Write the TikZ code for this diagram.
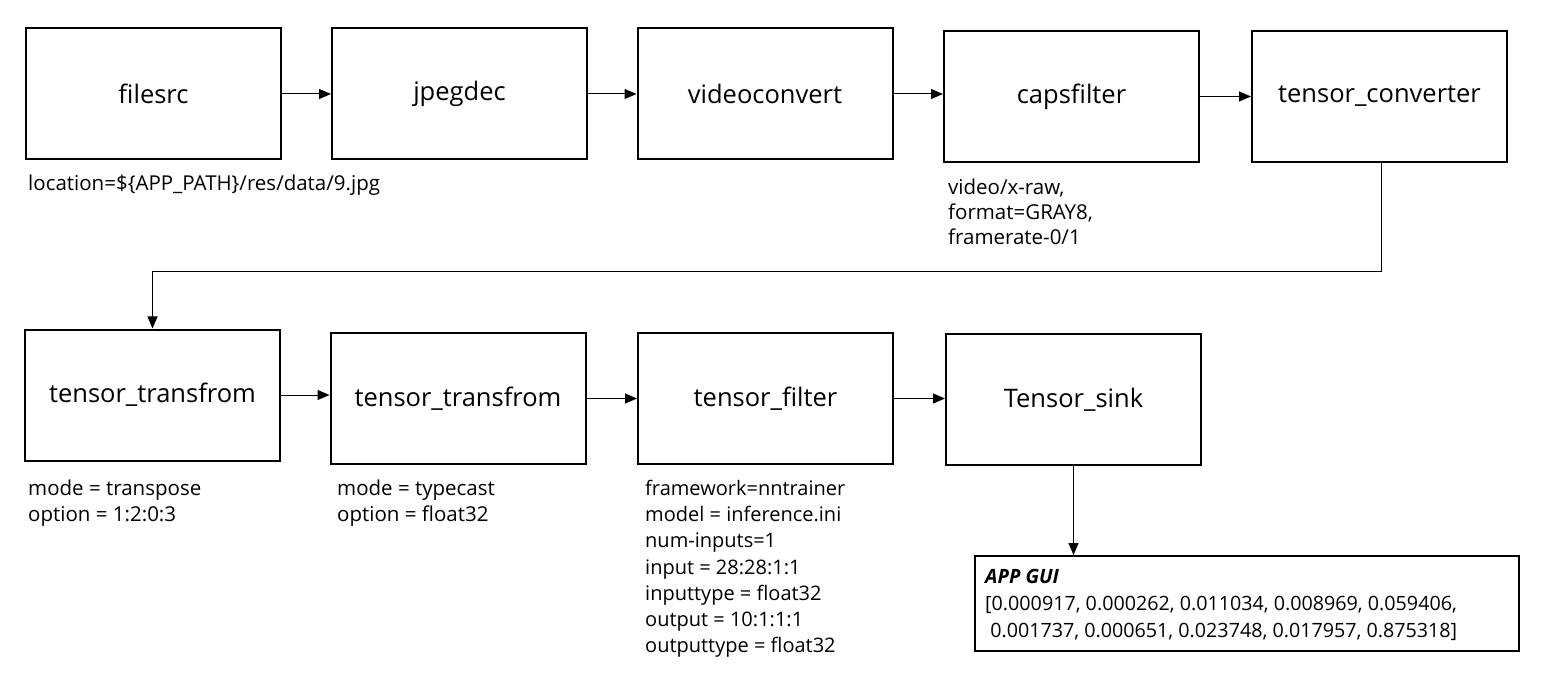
\documentclass[tikz,border=0pt]{standalone}
\usepackage{fontspec}
\setmainfont{Open Sans}
\usetikzlibrary{arrows.meta}
\tikzset{
  stagebox/.style={draw, line width=2pt, minimum width=255pt, minimum height=131pt, inner sep=0pt,
    font=\fontsize{25.5}{30}\selectfont},
  note/.style={anchor=north west, align=left, inner sep=0pt, font=\fontsize{20.5}{26}\selectfont},
  flow/.style={line width=1pt, -{Triangle[length=12pt,width=10pt]}},
}
\begin{document}
\begin{tikzpicture}[x=1pt,y=-1pt]
\useasboundingbox (0,0) rectangle (1554,684);
% row 1
\node[stagebox] (filesrc) at (153.5,94) {filesrc};
\node[stagebox] (jpegdec) at (459.5,94) {jpegdec};
\node[stagebox] (videoconvert) at (765,94) {videoconvert};
\node[stagebox] (capsfilter) at (1071.5,96.5) {capsfilter};
\node[stagebox] (converter) at (1379.5,96.5) {tensor\_converter};
% row 2
\node[stagebox] (tt1) at (152.5,395) {tensor\_transfrom};
\node[stagebox] (tt2) at (458,398.5) {tensor\_transfrom};
\node[stagebox] (tfilter) at (765.5,398.5) {tensor\_filter};
\node[stagebox] (tsink) at (1073.5,399.5) {Tensor\_sink};
% app gui
\node[draw, line width=2pt, minimum width=544pt, minimum height=95pt, inner sep=0pt] (gui) at (1247,603.5) {};
\node[note, font=\fontsize{19.7}{27}\selectfont] (guitext) at (985,569.5) {{\bfseries\itshape APP GUI}\\{[}0.000917, 0.000262, 0.011034, 0.008969, 0.059406,\\\ 0.001737, 0.000651, 0.023748, 0.017957, 0.875318{]}};
% notes
\node[note] (locnote) at (28,175) {location=\$\{APP\_PATH\}/res/data/9.jpg};
\node[note, font=\fontsize{20.5}{25}\selectfont] (capsnote) at (948,178.5) {video/x-raw,\\format=GRAY8,\\framerate-0/1};
\node[note] (tt1note) at (28,479.5) {mode = transpose\\option = 1:2:0:3};
\node[note] (tt2note) at (337,479.5) {mode = typecast\\option = float32};
\node[note, font=\fontsize{20}{26.2}\selectfont] (filternote) at (645,480) {framework=nntrainer\\model = inference.ini\\num-inputs=1\\input = 28:28:1:1\\inputtype = float32\\output = 10:1:1:1\\outputtype = float32};
% connectors
\draw[flow] (filesrc.east) -- (filesrc.east -| jpegdec.west);
\draw[flow] (jpegdec.east) -- (jpegdec.east -| videoconvert.west);
\draw[flow] (videoconvert.east) -- (videoconvert.east -| capsfilter.west);
\draw[flow] (capsfilter.east) -- (capsfilter.east -| converter.west);
\coordinate (bend) at (1381,272);
\draw[flow] (converter.south -| bend) -- (bend) -| (tt1.north);
\draw[flow] (tt1.east) -- (tt1.east -| tt2.west);
\draw[flow] (tt2.east) -- (tt2.east -| tfilter.west);
\draw[flow] (tfilter.east) -- (tfilter.east -| tsink.west);
\draw[flow] (tsink.south) -- (tsink.south |- gui.north);
\end{tikzpicture}
\end{document}
